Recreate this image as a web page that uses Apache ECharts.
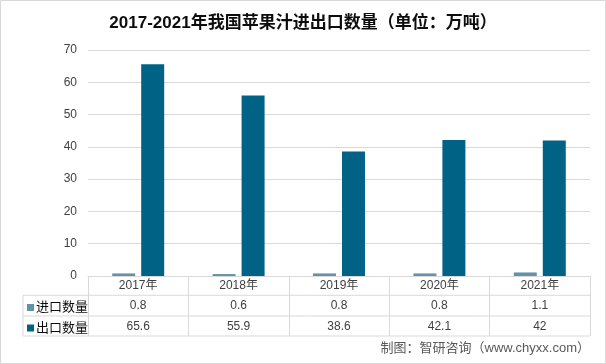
<!DOCTYPE html>
<html><head><meta charset="utf-8">
<script src="https://cdn.jsdelivr.net/npm/echarts@6/dist/echarts.min.js"></script>
<style>html,body{margin:0;padding:0;background:#fff}#c{width:606px;height:364px}</style>
</head><body><div id="c"></div>
<script>
const categories = ['2017年','2018年','2019年','2020年','2021年'];
const importValues = [0.8, 0.6, 0.8, 0.8, 1.1];
const exportValues = [65.6, 55.9, 38.6, 42.1, 42];
const seriesNames = ['进口数量','出口数量'];
const yTicks = {min: 0, max: 70, interval: 10};
const titleText = '2017-2021年我国苹果汁进出口数量（单位：万吨）';
const sourceText = '制图：智研咨询（www.chyxx.com）';

const W = 606, H = 364;
const G = {left: 88, right: 16, top: 50, bottom: 88};
const gridBottomY = H - G.bottom;
const tableLeft = 23, rowH = 20.3;
const lineColor = '#d9d9d9';
const textColor = '#404040';
const font = '"Liberation Sans", "Noto Sans CJK SC", sans-serif';

const chart = echarts.init(document.getElementById('c'), null, {renderer: 'canvas'});
const rowAxis = (data, off) => ({
  type: 'category', data: data.map(String), position: 'bottom', offset: off, gridIndex: 0,
  axisLine: {show: false}, axisTick: {show: false}, splitLine: {show: false},
  axisLabel: {margin: 4, color: textColor, fontSize: 12, fontFamily: font, interval: 0}
});
chart.setOption({
  animation: false,
  backgroundColor: '#fff',
  title: {text: titleText, left: 'center', top: 10,
    textStyle: {fontSize: 17, fontWeight: 'bold', color: '#0d0d0d', fontFamily: font}},
  legend: {orient: 'vertical', left: 22, top: 296, itemWidth: 7, itemHeight: 7, itemGap: 7.5,
    icon: 'rect', data: seriesNames,
    textStyle: {fontSize: 13, color: '#0d0d0d', fontFamily: font, padding: [0,0,0,-3]}},
  grid: {left: G.left, right: G.right, top: G.top, bottom: G.bottom, containLabel: false},
  xAxis: [
    {type: 'category', data: categories, gridIndex: 0,
     axisLine: {lineStyle: {color: lineColor, width: 1}},
     axisTick: {show: true, length: 60, interval: 0, lineStyle: {color: lineColor}},
     axisLabel: {margin: 4, color: textColor, fontSize: 12, fontFamily: font, interval: 0}},
    rowAxis(importValues, 20),
    rowAxis(exportValues, 40.5)
  ],
  yAxis: {type: 'value', min: yTicks.min, max: yTicks.max, interval: yTicks.interval,
    axisLine: {show: false}, axisTick: {show: false},
    splitLine: {lineStyle: {color: lineColor, width: 1}},
    axisLabel: {margin: 11, color: textColor, fontSize: 12, fontFamily: font}},
  series: [
    {name: seriesNames[0], type: 'bar', data: importValues, barWidth: 23, barGap: '26%',
     itemStyle: {color: '#6393a7'}},
    {name: seriesNames[1], type: 'bar', data: exportValues, barWidth: 23,
     itemStyle: {color: '#006386'}}
  ],
  graphic: [
    {type: 'rect', shape: {x: 0.5, y: 0.5, width: W - 1, height: H - 1}, silent: true,
     style: {fill: 'none', stroke: lineColor, lineWidth: 1}},
    {type: 'line', shape: {x1: tableLeft, y1: gridBottomY + rowH * 0.95, x2: W - G.right, y2: gridBottomY + rowH * 0.95},
     style: {stroke: lineColor, lineWidth: 1}},
    {type: 'line', shape: {x1: tableLeft, y1: gridBottomY + rowH * 1.97, x2: W - G.right, y2: gridBottomY + rowH * 1.97},
     style: {stroke: lineColor, lineWidth: 1}},
    {type: 'line', shape: {x1: tableLeft, y1: gridBottomY + 60, x2: W - G.right, y2: gridBottomY + 60},
     style: {stroke: lineColor, lineWidth: 1}},
    {type: 'line', shape: {x1: tableLeft, y1: gridBottomY + rowH * 0.95, x2: tableLeft, y2: gridBottomY + 60},
     style: {stroke: lineColor, lineWidth: 1}},
    {type: 'text', right: G.right, top: 342,
     style: {text: sourceText, fontSize: 13, fill: '#595959', fontFamily: font}}
  ]
});
</script></body></html>
